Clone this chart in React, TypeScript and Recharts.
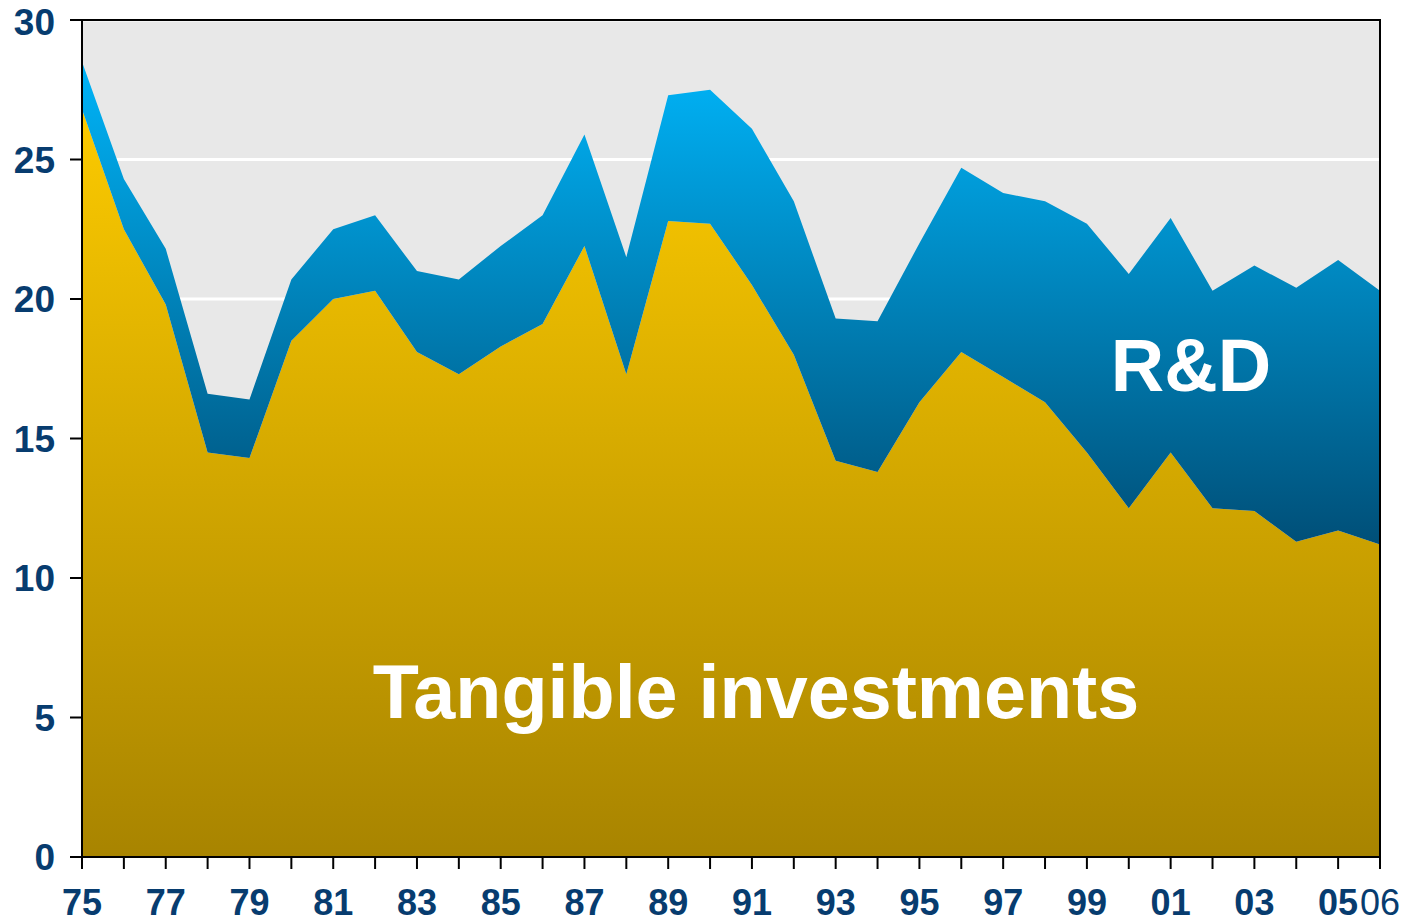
import React from 'react';
import { Area, AreaChart, CartesianGrid, ReferenceArea, XAxis, YAxis } from 'recharts';

const YEARS = [
  '75', '76', '77', '78', '79', '80', '81', '82', '83', '84', '85', '86', '87', '88', '89', '90',
  '91', '92', '93', '94', '95', '96', '97', '98', '99', '00', '01', '02', '03', '04', '05', '06',
];

const TANGIBLE = [
  26.8, 22.5, 19.8, 14.5, 14.3, 18.5, 20.0, 20.3, 18.1, 17.3, 18.3, 19.1, 21.9, 17.3, 22.8, 22.7,
  20.5, 18.0, 14.2, 13.8, 16.3, 18.1, 17.2, 16.3, 14.5, 12.5, 14.5, 12.5, 12.4, 11.3, 11.7, 11.2,
];

const RD = [
  1.7, 1.8, 2.0, 2.1, 2.1, 2.2, 2.5, 2.7, 2.9, 3.4, 3.6, 3.9, 4.0, 4.2, 4.5, 4.8,
  5.6, 5.5, 5.1, 5.4, 5.7, 6.6, 6.6, 7.2, 8.2, 8.4, 8.4, 7.8, 8.8, 9.1, 9.7, 9.1,
];

const Y_TICKS = [0, 5, 10, 15, 20, 25, 30];

const C = {
  label: '#073c6f',
  panel: '#e8e8e8',
  blueTop: '#00b4f8',
  blueBottom: '#004f78',
  goldTop: '#fcca00',
  goldBottom: '#a88400',
};

const FONT = '"Liberation Sans", Arial, sans-serif';

const data = YEARS.map((year, i) => ({ year, tangible: TANGIBLE[i], rd: RD[i] }));

function YearTick(props: any) {
  const { x, y, payload } = props;
  const i = YEARS.indexOf(payload.value);
  const last = i === YEARS.length - 1;
  if (i % 2 !== 0 && !last) return null;
  return (
    <text
      x={x}
      y={y + 44}
      textAnchor="middle"
      fill={C.label}
      fontSize={36}
      fontWeight={last ? 400 : 700}
      fontFamily={FONT}
    >
      {payload.value}
    </text>
  );
}

export default function App() {
  return (
    <div style={{ position: 'absolute', left: 0, top: 0, width: 1414, height: 923 }}>
      <AreaChart width={1414} height={923} data={data} margin={{ top: 20, right: 34, left: 0, bottom: 0 }}>
        <defs>
          <linearGradient id="rdFill" x1="0" y1="0" x2="0" y2="1">
            <stop offset="0%" stopColor={C.blueTop} />
            <stop offset="100%" stopColor={C.blueBottom} />
          </linearGradient>
          <linearGradient id="tangibleFill" x1="0" y1="0" x2="0" y2="1">
            <stop offset="0%" stopColor={C.goldTop} />
            <stop offset="100%" stopColor={C.goldBottom} />
          </linearGradient>
        </defs>
        <CartesianGrid vertical={false} stroke="#ffffff" strokeWidth={3} fill={C.panel} />
        <XAxis
          dataKey="year"
          interval={0}
          height={66}
          tickSize={12}
          tick={<YearTick />}
          axisLine={{ stroke: '#000', strokeWidth: 2 }}
          tickLine={{ stroke: '#000', strokeWidth: 2 }}
        />
        <YAxis
          domain={[0, 30]}
          ticks={Y_TICKS}
          width={82}
          tickSize={12}
          tickMargin={15}
          axisLine={{ stroke: '#000', strokeWidth: 2 }}
          tickLine={{ stroke: '#000', strokeWidth: 2 }}
          tick={{ fill: C.label, fontSize: 37, fontWeight: 700, fontFamily: FONT }}
        />
        <Area
          type="linear"
          dataKey="tangible"
          stackId="1"
          stroke="none"
          fill="url(#tangibleFill)"
          fillOpacity={1}
          isAnimationActive={false}
        />
        <Area
          type="linear"
          dataKey="rd"
          stackId="1"
          stroke="none"
          fill="url(#rdFill)"
          fillOpacity={1}
          isAnimationActive={false}
        />
        <ReferenceArea x1="75" x2="06" y1={0} y2={30} fill="none" stroke="#000" strokeWidth={2} />
      </AreaChart>
      <svg
        width={1414}
        height={923}
        style={{ position: 'absolute', left: 0, top: 0, pointerEvents: 'none' }}
      >
        <text x={756} y={718} textAnchor="middle" fill="#fff" fontSize={75.5} fontWeight={700} fontFamily={FONT}>
          Tangible investments
        </text>
        <text x={1191} y={391} textAnchor="middle" fill="#fff" fontSize={74} fontWeight={700} fontFamily={FONT}>
          R&amp;D
        </text>
      </svg>
    </div>
  );
}
